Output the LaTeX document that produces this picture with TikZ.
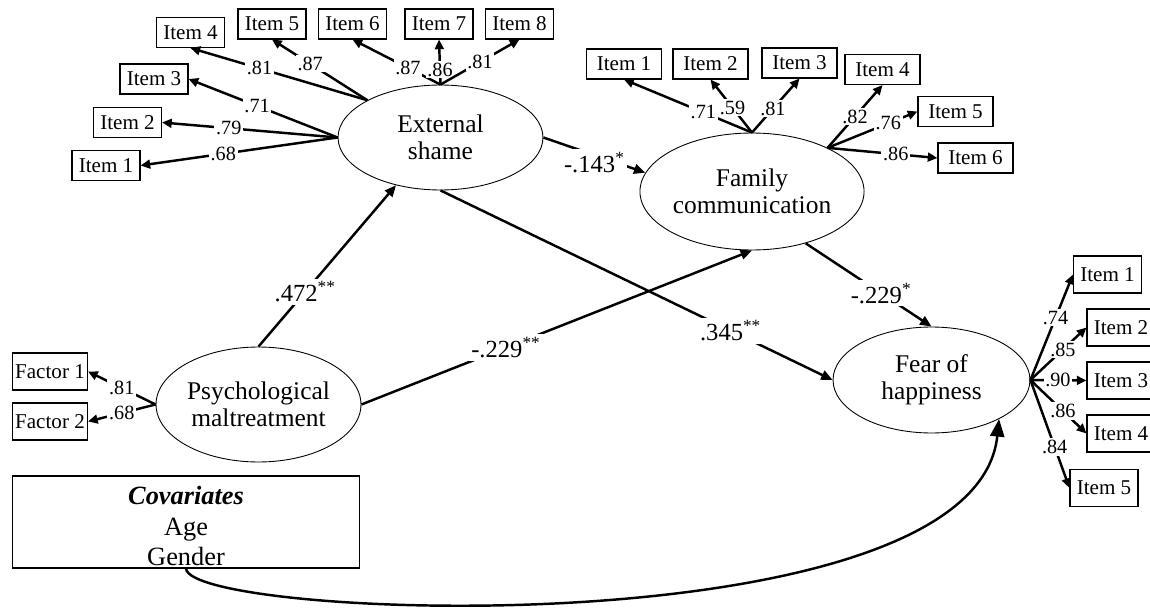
\documentclass[tikz,border=0pt]{standalone}
\usepackage{fontspec}
\setmainfont{Liberation Serif}
\usetikzlibrary{shapes.geometric,arrows.meta}

\begin{document}
\begin{tikzpicture}[x=0.02cm,y=-0.02cm,
            latent/.style={draw,ellipse,line width=0.5pt,inner sep=0pt,align=center,font=\fontsize{14.5}{15.5}\selectfont},
            item/.style={draw,line width=0.6pt,inner sep=0pt,minimum width=1.36cm,minimum height=0.6cm,font=\fontsize{12}{14}\selectfont},
            load/.style={line width=1.4pt,-{Triangle[length=5.5pt,width=5pt]}},
            regpath/.style={line width=1.4pt,-{Triangle[length=6.5pt,width=5.5pt]}},
            coef/.style={fill=white,inner sep=1pt,font=\fontsize{11.5}{13}\selectfont},
            beta/.style={fill=white,inner sep=1.5pt,font=\fontsize{14}{16}\selectfont},
            ]
            \useasboundingbox (0,0) rectangle (1150,615);

            % latent variables
            \node[latent,minimum width=4.1cm,minimum height=2.1cm] (es) at (440.5,137.5) {External\\shame};
            \node[latent,minimum width=4.28cm,minimum height=2.34cm] (fc) at (752,191.5) {Family\\communication};
            \node[latent,minimum width=3.94cm,minimum height=2.12cm] (foh) at (931.5,380) {Fear of\\happiness};
            \node[latent,minimum width=4.1cm,minimum height=2.3cm] (pm) at (258.5,404.5) {Psychological\\maltreatment};

            % external shame items
            \node[item] (es1) at (106,165.5) {Item 1};
            \node[item] (es2) at (127.5,122.5) {Item 2};
            \node[item] (es3) at (154,79) {Item 3};
            \node[item] (es4) at (190.5,32.5) {Item 4};
            \node[item] (es5) at (272,24) {Item 5};
            \node[item] (es6) at (352.5,24) {Item 6};
            \node[item] (es7) at (439,24) {Item 7};
            \node[item] (es8) at (519.5,24) {Item 8};

            % family communication items
            \node[item,minimum width=1.5cm] (fc1) at (624,64) {Item 1};
            \node[item,minimum width=1.5cm] (fc2) at (710.5,64) {Item 2};
            \node[item,minimum width=1.5cm] (fc3) at (799.5,63) {Item 3};
            \node[item,minimum width=1.5cm] (fc4) at (882.5,69.5) {Item 4};
            \node[item,minimum width=1.5cm] (fc5) at (955.5,111.5) {Item 5};
            \node[item,minimum width=1.5cm] (fc6) at (975.5,158) {Item 6};

            % fear of happiness items
            \node[item,minimum height=0.74cm] (foh1) at (1107.5,274.5) {Item 1};
            \node[item,minimum height=0.74cm] (foh2) at (1121,327.5) {Item 2};
            \node[item,minimum height=0.74cm] (foh3) at (1121,380.5) {Item 3};
            \node[item,minimum height=0.74cm] (foh4) at (1121,433.5) {Item 4};
            \node[item,minimum height=0.74cm] (foh5) at (1104,488) {Item 5};

            % maltreatment factors
            \node[item,minimum width=1.5cm,minimum height=0.74cm] (pm1) at (50,371.5) {Factor 1};
            \node[item,minimum width=1.5cm,minimum height=0.74cm] (pm2) at (50,421.5) {Factor 2};

            \node[draw,line width=0.6pt,inner sep=0pt,minimum width=6.96cm,minimum height=1.84cm,align=center,
                font=\fontsize{15}{17.5}\selectfont] (cov) at (186,522) {\rule{0pt}{15pt}\textbf{\textit{Covariates}}\\Age\\Gender};

            % loadings
            \draw[load] (es.west) -- (es1.east) node[coef,pos=0.58] {.68};
            \draw[load] (es.west) -- (es2.east) node[coef,pos=0.62] {.79};
            \draw[load] (es.west) -- (es3.east) node[coef,pos=0.54] {.71};
            \draw[load] (es.153) -- (es4.south) node[coef,pos=0.61] {.81};
            \draw[load] (es.153) -- (es5.south) node[coef,pos=0.6] {.87};
            \draw[load] (es.north) -- (es6.south) node[coef,pos=0.37] {.87};
            \draw[load] (es.north) -- (es7.south) node[coef,pos=0.33] {.86};
            \draw[load] (es.north) -- (es8.south) node[coef,pos=0.5] {.81};

            \draw[load] (fc.north) -- (fc1.south) node[coef,pos=0.38] {.71};
            \draw[load] (fc.north) -- (fc2.south) node[coef,pos=0.47] {.59};
            \draw[load] (fc.north) -- (fc3.south) node[coef,pos=0.44] {.81};
            \draw[load] (fc.30) -- (fc4.south) node[coef,pos=0.5] {.82};
            \draw[load] (fc.30) -- (fc5.west) node[coef,pos=0.675] {.76};
            \draw[load] (fc.30) -- (fc6.west) node[coef,pos=0.62] {.86};

            \draw[load] (foh.east) -- (foh1.west) node[coef,pos=0.59] {.74};
            \draw[load] (foh.east) -- (foh2.west) node[coef,pos=0.58] {.85};
            \draw[load] (foh.east) -- (foh3.west) node[coef,pos=0.49] {.90};
            \draw[load] (foh.east) -- (foh4.west) node[coef,pos=0.58] {.86};
            \draw[load] (foh.east) -- (foh5.west) node[coef,pos=0.62] {.84};

            \draw[load] (pm.west) -- (pm1.east) node[coef,pos=0.5] {.81};
            \draw[load] (pm.west) -- (pm2.east) node[coef,pos=0.5] {.68};

            % structural paths
            \draw[regpath] (pm.north) -- (es.227) node[beta,pos=0.34] {.472\textsuperscript{**}};
            \draw[regpath] (pm.east) -- (fc.south) node[beta,pos=0.37] {-.229\textsuperscript{**}};
            \draw[regpath] (es.south) -- (foh.west) node[beta,pos=0.74] {.345\textsuperscript{**}};
            \draw[regpath] (es.east) -- (fc.170) node[beta,pos=0.5,yshift=-4pt] {-.143\textsuperscript{*}};
            \draw[regpath] (fc.-44) -- (foh.north) node[beta,pos=0.6] {-.229\textsuperscript{*}};
            \draw[line width=1.4pt,-{Triangle[length=10pt,width=8pt]}] (cov.south) .. controls (190,620) and (975,650) .. (foh.-30);
        \end{tikzpicture}
\end{document}
